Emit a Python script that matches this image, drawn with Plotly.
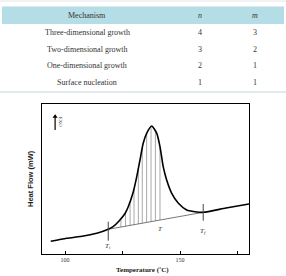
import plotly.graph_objects as go
import numpy as np

# ---- table data ----
mechanisms = ["Three-dimensional growth", "Two-dimensional growth",
              "One-dimensional growth", "Surface nucleation"]
n_vals = [4, 3, 2, 1]
m_vals = [3, 2, 1, 1]

# ---- DSC curve data (Temperature °C, heat flow a.u.) ----
curve_T = [93.8, 100.7, 108.0, 113.8, 118.8, 120.9, 123.5, 126.1, 127.5, 129.7,
           131.2, 132.6, 134.0, 135.5, 137.7, 139.9, 141.3, 142.7, 144.2, 146.4,
           149.3, 152.9, 156.5, 160.1, 170.0, 180.0]
curve_y = [12.7, 15.7, 18.0, 20.7, 24.7, 27.3, 33.0, 40.5, 47.3, 62.3,
           77.3, 94.0, 110.7, 120.7, 128.0, 120.7, 107.3, 87.3, 74.0, 60.7,
           50.7, 44.0, 42.3, 41.7, 46.0, 50.0]

T_i, y_i = 118.8, 24.7
T_f, y_f = 160.1, 41.7

hatch_T = [124.3, 126.3, 128.3, 130.0, 131.9, 133.6, 135.5, 137.4, 139.3, 141.3]
hatch_top = [36.0, 41.5, 52.0, 65.5, 85.0, 106.0, 120.7, 127.8, 123.0, 107.3]

x_major_ticks = [100, 150]
x_ticklabels = ["100", "150"]
x_minor_ticks = [125, 175]

# ---- layout geometry (pixels) ----
W_PX, H_PX = 286, 276
L, R, T, B = 42, 249, 104, 254
PW, PH = R - L, B - T

def px(x):
    return (x - L) / PW

def py(y):
    return (B - y) / PH

fig = go.Figure()

# hatching lines from baseline up to curve
base_at = np.interp(hatch_T, [T_i, T_f], [y_i, y_f])
hx, hy = [], []
for t, b0, top in zip(hatch_T, base_at, hatch_top):
    hx += [t, t, None]
    hy += [b0, top, None]
fig.add_trace(go.Scatter(x=hx, y=hy, mode="lines",
                         line=dict(color="#a8a8a8", width=1), hoverinfo="skip"))

# baseline
fig.add_trace(go.Scatter(x=[T_i, T_f], y=[y_i, y_f], mode="lines",
                         line=dict(color="#555555", width=0.8), hoverinfo="skip"))

# main curve
fig.add_trace(go.Scatter(x=curve_T, y=curve_y, mode="lines",
                         line=dict(color="black", width=1.6, shape="spline", smoothing=0.6),
                         hoverinfo="skip"))

# Ti / Tf markers
fig.add_trace(go.Scatter(x=[T_i, T_i, None, T_f, T_f],
                         y=[y_i - 11.4, y_i + 7.6, None, y_f - 8.4, y_f + 8.3],
                         mode="lines", line=dict(color="#444444", width=1),
                         hoverinfo="skip"))

# exo arrow: shaft + head
exo_T, exo_y0, exo_y1 = 95.7, 124.0, 137.5
fig.add_trace(go.Scatter(x=[exo_T, exo_T], y=[exo_y0, exo_y1], mode="lines",
                         line=dict(color="black", width=1.2), hoverinfo="skip"))
fig.add_trace(go.Scatter(x=[exo_T], y=[exo_y1], mode="markers",
                         marker=dict(symbol="triangle-up", size=4.5, color="black"),
                         hoverinfo="skip"))

annotations = []

def ann(**kw):
    kw.setdefault("xanchor", "center")
    kw.setdefault("yanchor", "middle")
    kw.setdefault("showarrow", False)
    annotations.append(kw)

lab_font = dict(family="Liberation Serif", size=7, color="#333333")
ann(x=T_i, y=y_i - 16.5, xref="x", yref="y",
    text="<i>T</i><sub><i>i</i></sub>", font=lab_font)
ann(x=141.6, y=25, xref="x", yref="y", text="<i>T</i>", font=lab_font)
ann(x=T_f, y=y_f - 18.4, xref="x", yref="y",
    text="<i>T</i><sub><i>f</i></sub>", font=lab_font)

ann(x=98.2, y=131.5, xref="x", yref="y", text="EXO", textangle=90,
    font=dict(family="Liberation Serif", size=5, color="#333333"))

# axis titles
ann(x=px(142), y=py(270), xref="paper", yref="paper",
    text="<b>Temperature (˚C)</b>",
    font=dict(family="Liberation Serif", size=7, color="#222222"))
ann(x=px(30), y=py(179), xref="paper", yref="paper",
    text="<b>Heat Flow (mW)</b>", textangle=-90,
    font=dict(family="Liberation Sans", size=7.5, color="#222222"))

# ---- table ----
tab_font = dict(family="Liberation Serif", size=8, color="#333333")
ann(x=px(87), y=py(15), xref="paper", yref="paper", text="Mechanism", font=tab_font)
ann(x=px(200), y=py(15), xref="paper", yref="paper", text="<i>n</i>", font=tab_font)
ann(x=px(255), y=py(15), xref="paper", yref="paper", text="<i>m</i>", font=tab_font)
row_y = [32.3, 49.3, 65.7, 82.3]
for name, nv, mv, ry in zip(mechanisms, n_vals, m_vals, row_y):
    ann(x=px(87), y=py(ry), xref="paper", yref="paper", text=name, font=tab_font)
    ann(x=px(200), y=py(ry), xref="paper", yref="paper", text=str(nv), font=tab_font)
    ann(x=px(255), y=py(ry), xref="paper", yref="paper", text=str(mv), font=tab_font)

shapes = [
    dict(type="line", xref="paper", yref="paper", x0=px(0), x1=px(286), y0=py(1), y1=py(1),
         line=dict(color="#e2e6e8", width=1)),
    dict(type="rect", xref="paper", yref="paper", x0=px(2), x1=px(284), y0=py(6.5), y1=py(24),
         fillcolor="#b5dde6", line=dict(width=0), layer="below"),
    dict(type="line", xref="paper", yref="paper", x0=px(0), x1=px(286), y0=py(92), y1=py(92),
         line=dict(color="#c3d6dc", width=1)),
]

fig.update_layout(
    width=W_PX, height=H_PX,
    margin=dict(l=L, r=W_PX - R, t=T, b=H_PX - B, autoexpand=False),
    paper_bgcolor="white", plot_bgcolor="white",
    showlegend=False,
    annotations=annotations, shapes=shapes,
    xaxis=dict(range=[90, 180], tickvals=x_major_ticks, ticktext=x_ticklabels,
               ticks="inside", ticklen=3, tickcolor="black",
               minor=dict(tickvals=x_minor_ticks, ticks="inside", ticklen=3,
                          tickcolor="black", showgrid=False),
               showline=True, mirror=True, linecolor="black", linewidth=1,
               showgrid=False, zeroline=False, automargin=False,
               tickfont=dict(family="Liberation Serif", size=6, color="#333333")),
    yaxis=dict(range=[0, 150], showticklabels=False, ticks="",
               showline=True, mirror=True, linecolor="black", linewidth=1,
               showgrid=False, zeroline=False, automargin=False),
)

fig.write_html("out.html")
